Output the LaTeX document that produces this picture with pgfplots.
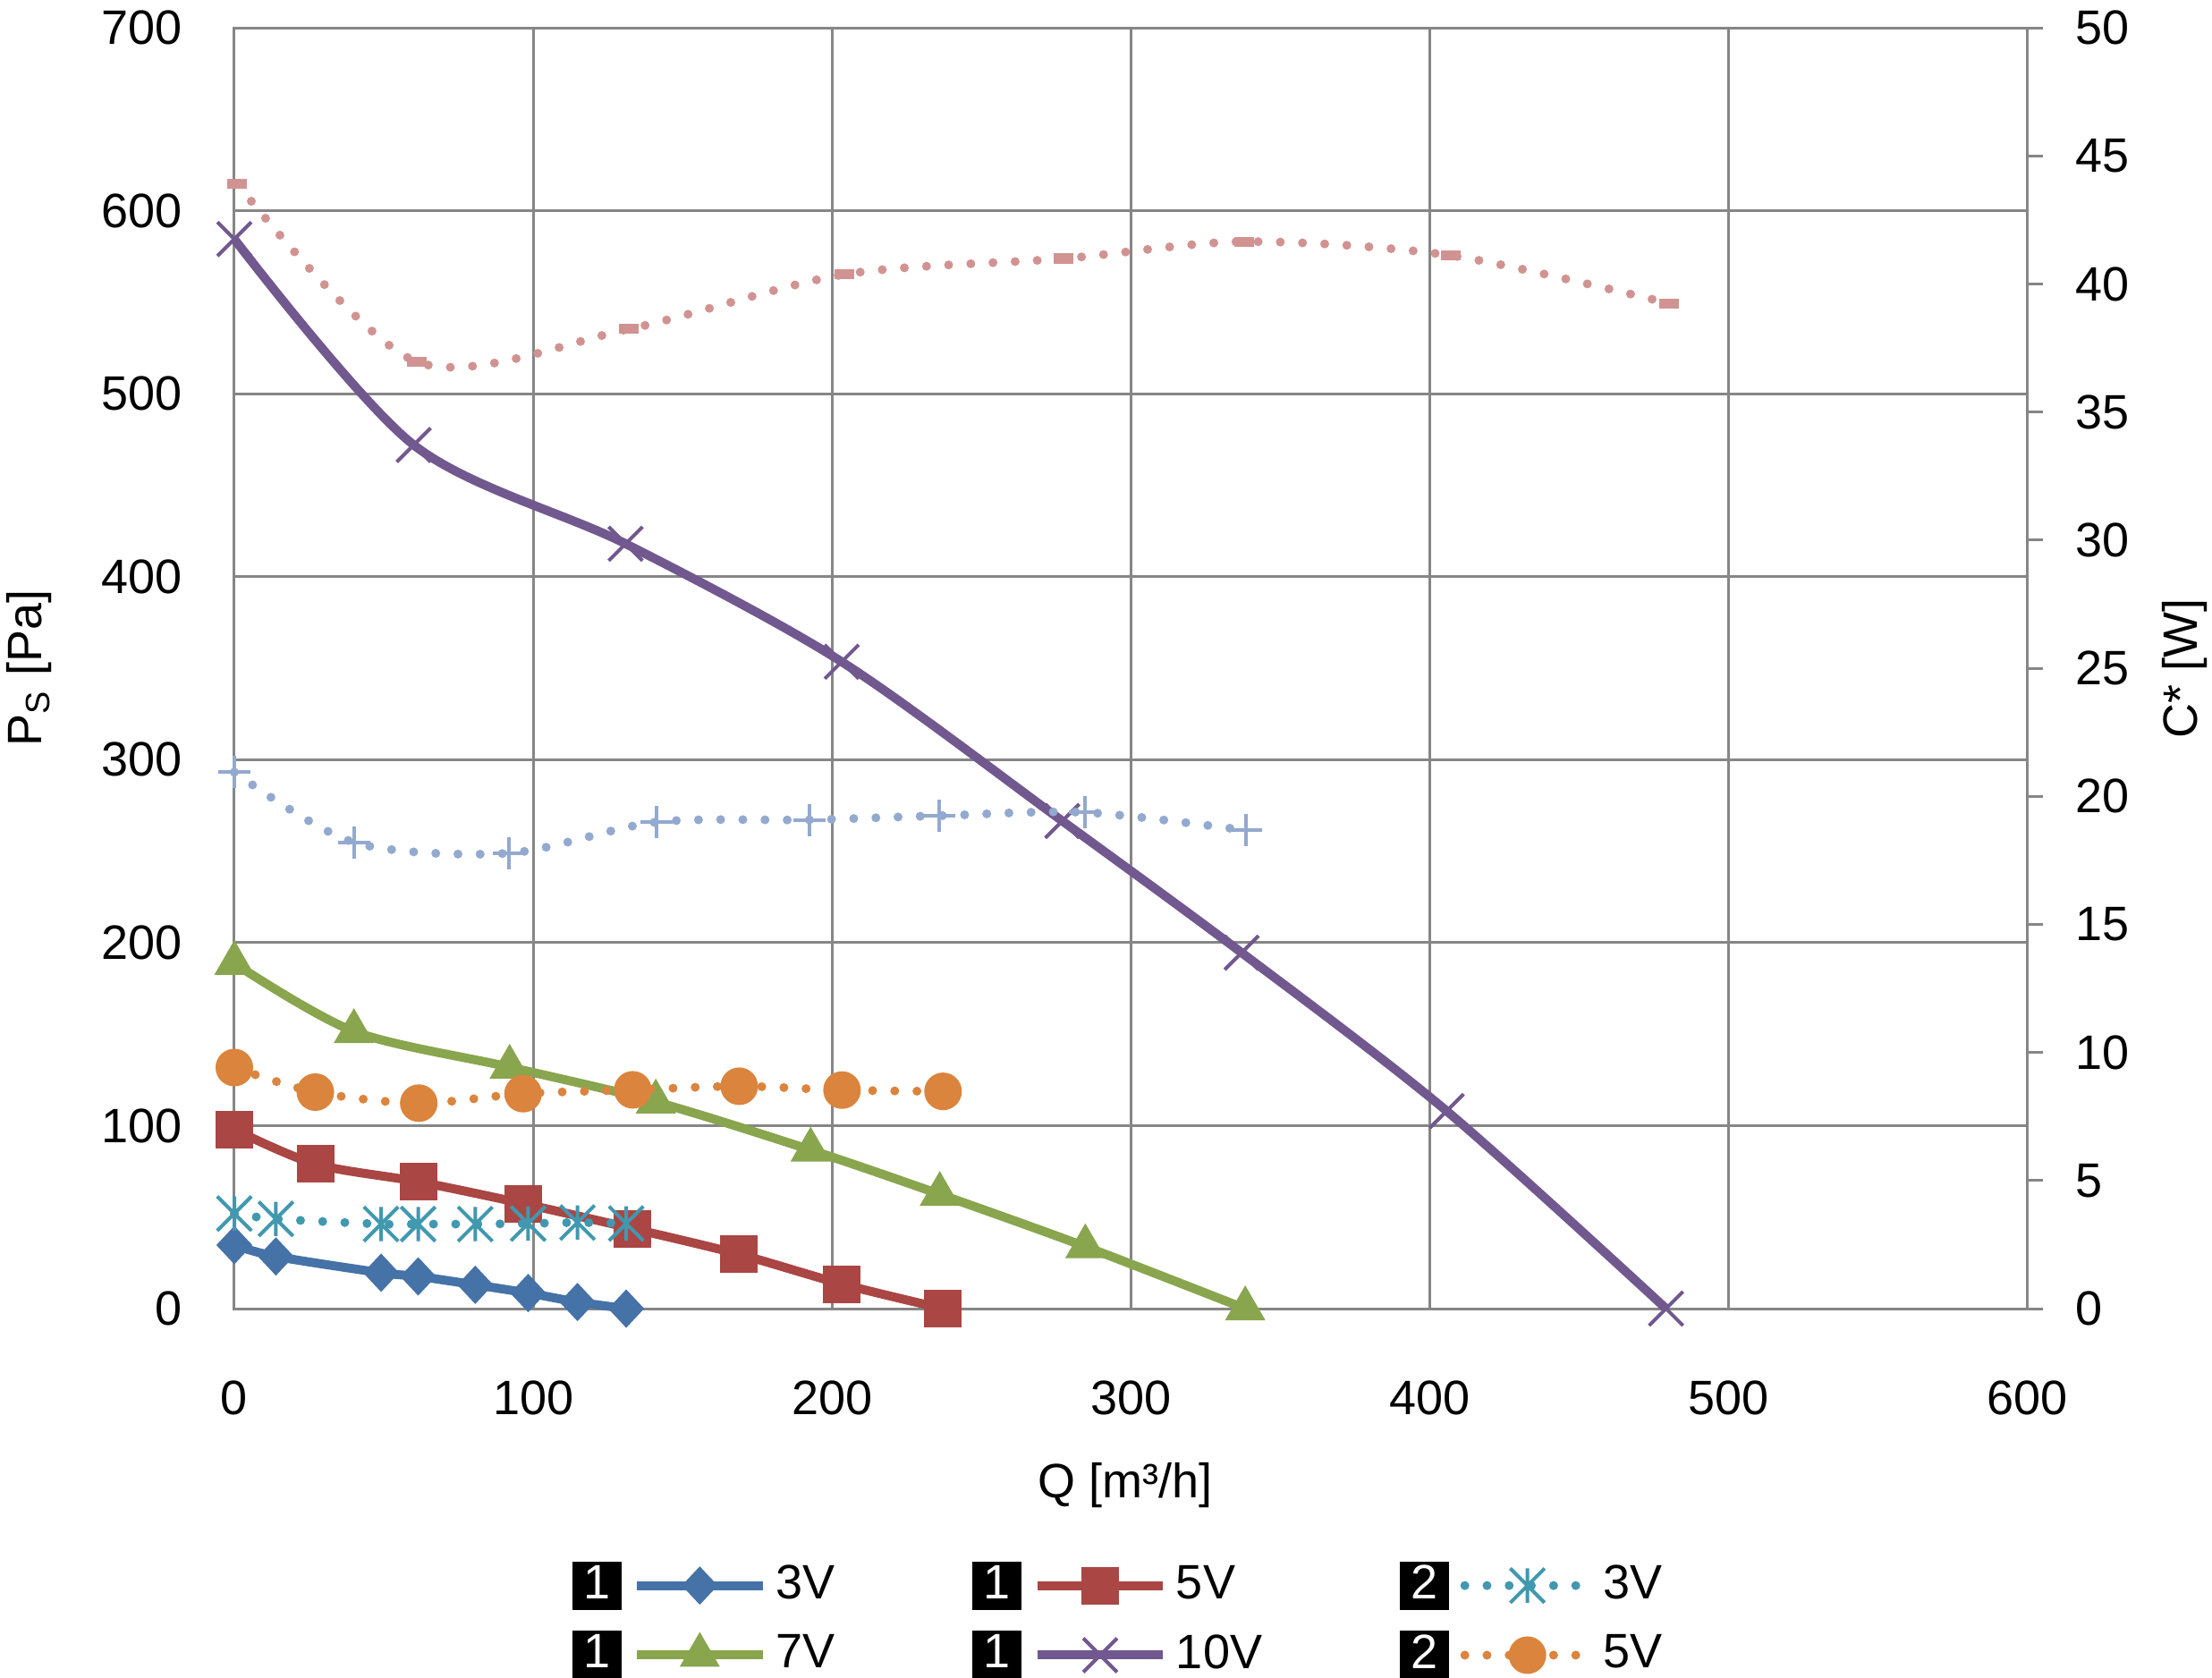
\documentclass[border=0pt]{standalone}
\usepackage{pgfplots}
\pgfplotsset{compat=1.18}
\usepackage{fontspec}
\setmainfont{Liberation Sans}
\definecolor{cA}{HTML}{4572A7}
\definecolor{cB}{HTML}{AA4643}
\definecolor{cC}{HTML}{89A54E}
\definecolor{cD}{HTML}{71588F}
\definecolor{cE}{HTML}{4198AF}
\definecolor{cF}{HTML}{DB843D}
\definecolor{cG}{HTML}{93A9CF}
\definecolor{cH}{HTML}{D19392}
\definecolor{gridc}{HTML}{868686}
\newcommand{\fs}{\fontsize{13.5}{16}\selectfont}
\pgfdeclareplotmark{xstar}{%
  \pgfpathmoveto{\pgfqpoint{0pt}{-\pgfplotmarksize}}%
  \pgfpathlineto{\pgfqpoint{0pt}{\pgfplotmarksize}}%
  \pgfpathmoveto{\pgfqpoint{-\pgfplotmarksize}{-\pgfplotmarksize}}%
  \pgfpathlineto{\pgfqpoint{\pgfplotmarksize}{\pgfplotmarksize}}%
  \pgfpathmoveto{\pgfqpoint{-\pgfplotmarksize}{\pgfplotmarksize}}%
  \pgfpathlineto{\pgfqpoint{\pgfplotmarksize}{-\pgfplotmarksize}}%
  \pgfusepathqstroke}
\pgfplotsset{
  boxleg/.style={legend image code/.code={%
    \node[fill=black,text=white,inner sep=0pt,minimum width=13.75pt,minimum height=13.5pt,font=\fs] at (-19.4pt,0pt) {#1};
    \draw[mark repeat=2,mark phase=2] plot coordinates {(0pt,0pt) (17.5pt,0pt) (35pt,0pt)};}},
  solidser/.style={line width=2.5pt, smooth, tension=0.5},
  dotser/.style={line width=2.5pt, line cap=round, dash pattern=on 0pt off 6.2pt, smooth, tension=0.5},
  sBlue/.style={cA, solidser, mark=diamond*, mark size=5pt, mark options={solid, line width=0.5pt, xscale=1.25}},
  sRed/.style={cB, solidser, mark=square*, mark size=5pt, mark options={solid, line width=0.5pt}},
  sGreen/.style={cC, solidser, mark=triangle*, mark size=6pt, mark options={solid, line width=0.5pt}},
  sPurple/.style={cD, solidser, mark=x, mark size=6.7pt, mark options={solid, line width=1pt}},
  sAqua/.style={cE, dotser, mark=xstar, mark size=4.8pt, mark options={solid, line width=1pt, line cap=butt}},
  sOrange/.style={cF, dotser, mark=*, mark size=5pt, mark options={solid, line width=0.5pt}},
  sLB/.style={cG, dotser, mark=+, mark size=4.5pt, mark options={solid, line width=1pt, line cap=butt}},
  sPink/.style={cH, dotser, mark=-, mark size=2.75pt, mark options={solid, line width=2.8pt, line cap=butt}},
}
\begin{document}
\fs
\begin{tikzpicture}
\path[use as bounding box] (-65.5pt,-103pt) rectangle (552.75pt,365.75pt);
\begin{axis}[
  scale only axis, width=501.25pt, height=358pt, at={(0pt,0pt)}, anchor=south west,
  xmin=0, xmax=600, ymin=0, ymax=700,
  xtick={0,100,...,600}, ytick={0,100,...,700},
  grid=major, major grid style={draw=gridc, line width=0.75pt},
  axis line style={draw=gridc, line width=0.75pt},
  major tick length=0pt, tick style={draw=none},
  clip=false,
  /pgf/number format/assume math mode=true,
  ticklabel style={font=\fs},
  xticklabel style={yshift=-15.5pt},
  yticklabel style={xshift=-10pt},
  label style={font=\fs},
  xlabel={Q [m³/h]},
  ylabel={P\textsubscript{S} [Pa]},
  xlabel style={at={(axis description cs:0.497,-0.1376)}, anchor=center},
  ylabel style={at={(axis description cs:-0.1142,0.5)}, anchor=center},
]
\addplot[sBlue] coordinates {(0,34.7) (13.9,28.5) (49.1,19.6) (61.5,17.6) (80.6,13.0) (98.3,8.5) (114.8,3.6) (131.1,0)};
\addplot[sRed] coordinates {(0,97.9) (27.1,79.0) (61.7,69.3) (96.6,57.4) (133.3,43.7) (168.9,29.7) (203.3,13.4) (237.1,0)};
\addplot[sGreen] coordinates {(0,188.7) (40,151.5) (92.1,132) (141,113) (192.8,86.7) (236,62.5) (284.7,33.9) (338.2,0)};
\addplot[sPurple] coordinates {(0,584.5) (60,472) (130.9,418) (203.2,353.5) (277,266.5) (337,194.5) (405.6,108) (479,0)};
\end{axis}
\begin{axis}[
  scale only axis, width=501.25pt, height=358pt, at={(0pt,0pt)}, anchor=south west,
  xmin=0, xmax=600, ymin=0, ymax=50,
  axis x line=none, axis y line*=right,
  ytick={0,5,...,50},
  axis line style={draw=gridc, line width=0.75pt},
  tick style={draw=gridc, line width=0.75pt},
  tick align=outside, major tick length=4.25pt,
  clip=false,
  /pgf/number format/assume math mode=true,
  ticklabel style={font=\fs},
  yticklabel style={xshift=4.5pt},
  label style={font=\fs},
  ylabel={C* [W]},
  ylabel style={at={(axis description cs:1.0878,0.5)}, anchor=center},
  legend columns=3,
  legend cell align=left,
  legend style={at={(axis description cs:0.188,-0.1955)}, anchor=north west, draw=none, fill=none, inner sep=0pt,
    /tikz/row sep=5pt,
    /tikz/every even column/.append style={column sep=36pt},
    /tikz/column 4/.append style={column sep=33.6pt},
    nodes={inner xsep=2.5pt, inner ysep=1.5pt, font=\fs}},
]
\addlegendimage{sBlue, boxleg=1}\addlegendentry{3V}
\addlegendimage{sRed, boxleg=1}\addlegendentry{5V}
\addlegendimage{sAqua, boxleg=2}\addlegendentry{3V}
\addlegendimage{sGreen, boxleg=1}\addlegendentry{7V}
\addlegendimage{sPurple, boxleg=1}\addlegendentry{10V}
\addlegendimage{sOrange, boxleg=2}\addlegendentry{5V}
\addplot[sAqua, forget plot] coordinates {(0,3.71) (13.9,3.5) (49.1,3.30) (61.5,3.30) (80.6,3.30) (98.3,3.32) (114.8,3.36) (131.1,3.32)};
\addplot[sOrange, forget plot] coordinates {(0,9.41) (27.1,8.45) (61.7,8.02) (96.6,8.39) (133.3,8.54) (168.9,8.68) (203.3,8.53) (237.1,8.48)};
\addplot[sLB, forget plot] coordinates {(0,20.94) (40,18.20) (91.9,17.78) (141.1,18.99) (192.5,19.08) (235.8,19.24) (284.7,19.37) (338.4,18.67)};
\addplot[sPink, forget plot] coordinates {(1,43.9) (61,36.96) (132,38.24) (204,40.37) (277.5,40.99) (338,41.65) (407,41.11) (480,39.24)};
\end{axis}
\end{tikzpicture}
\end{document}
